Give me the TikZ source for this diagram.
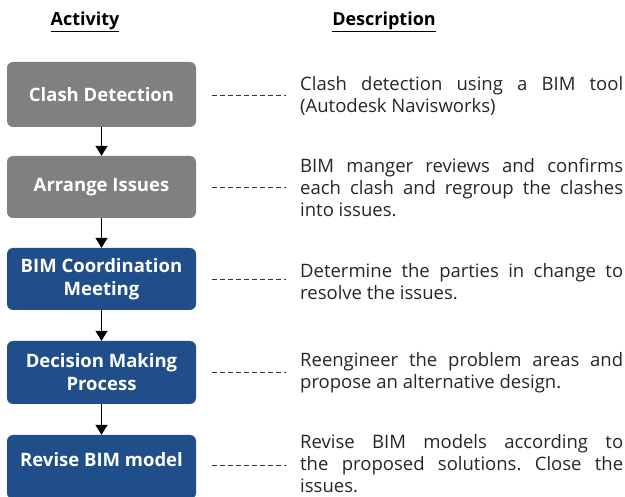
\documentclass[tikz,border=0pt]{standalone}
\usepackage{fontspec}
\setmainfont{Open Sans}
\usetikzlibrary{arrows.meta}
\frenchspacing
\definecolor{boxgray}{RGB}{128,128,128}
\definecolor{boxblue}{RGB}{31,78,138}
\definecolor{dashgray}{RGB}{50,50,50}
\newlength{\descw}
\setlength{\descw}{323pt}
\newcommand{\jline}[1]{\makebox[\descw][s]{#1}}
\tikzset{
  actbox/.style={rounded corners=6pt, minimum width=189pt, inner sep=2pt,
    text=white, align=center, font=\bfseries\fontsize{18.5}{23}\selectfont},
  graybox/.style={actbox, fill=boxgray},
  bluebox/.style={actbox, fill=boxblue},
  flow/.style={line width=1.5pt, -{Triangle[width=12pt,length=10pt]}},
  leader/.style={dashgray, line width=0.9pt, dash pattern=on 5pt off 3pt},
  desc/.style={anchor=west, inner sep=0pt, align=left, text=black!85,
    font=\fontsize{18.5}{22}\selectfont},
  heading/.style={font=\bfseries\fontsize{18}{22}\selectfont, inner sep=0pt}
}
\begin{document}
\begin{tikzpicture}[x=1pt, y=-1pt]
\useasboundingbox (0,0) rectangle (625,497);
\node[heading] (h1) at (85,22) {\underline{Activity}};
\node[heading] (h2) at (384,22) {\underline{Description}};

\node[graybox, minimum height=65pt] (b1) at (101.5,94.5) {Clash Detection};
\node[graybox, minimum height=62pt] (b2) at (101.5,187) {Arrange Issues};
\node[bluebox, minimum height=62pt] (b3) at (101.5,279) {BIM Coordination\\Meeting};
\node[bluebox, minimum height=63pt] (b4) at (101.5,372.5) {Decision Making\\Process};
\node[bluebox, minimum height=64pt] (b5) at (101.5,467) {};
\node[actbox, fill=none] (t5) at (101.5,460) {Revise BIM model};

\draw[flow] (b1) -- (b2);
\draw[flow] (b2) -- (b3);
\draw[flow] (b3) -- (b4);
\draw[flow] (b4) -- (b5);

\node[desc] (d1) at (300,95.5) {\jline{Clash detection using a BIM tool}\\(Autodesk Navisworks)};
\node[desc] (d2) at (300,188) {\jline{BIM manger reviews and confirms}\\\jline{each clash and regroup the clashes}\\into issues.};
\node[desc] (d3) at (300,282) {\jline{Determine the parties in change to}\\resolve the issues.};
\node[desc] (d4) at (300,373) {\jline{Reengineer the problem areas and}\\propose an alternative design.};
\node[desc] (d5) at (300,464) {\jline{Revise BIM models according to}\\\jline{the proposed solutions. Close the}\\issues.};

\coordinate (l1a) at (212,95);  \coordinate (l1b) at (286,95);
\coordinate (l2a) at (212,187); \coordinate (l2b) at (286,187);
\coordinate (l3a) at (212,279); \coordinate (l3b) at (286,279);
\coordinate (l4a) at (212,372); \coordinate (l4b) at (286,372);
\coordinate (l5a) at (212,465); \coordinate (l5b) at (286,465);
\draw[leader] (l1a) -- (l1b);
\draw[leader] (l2a) -- (l2b);
\draw[leader] (l3a) -- (l3b);
\draw[leader] (l4a) -- (l4b);
\draw[leader] (l5a) -- (l5b);
\end{tikzpicture}
\end{document}
